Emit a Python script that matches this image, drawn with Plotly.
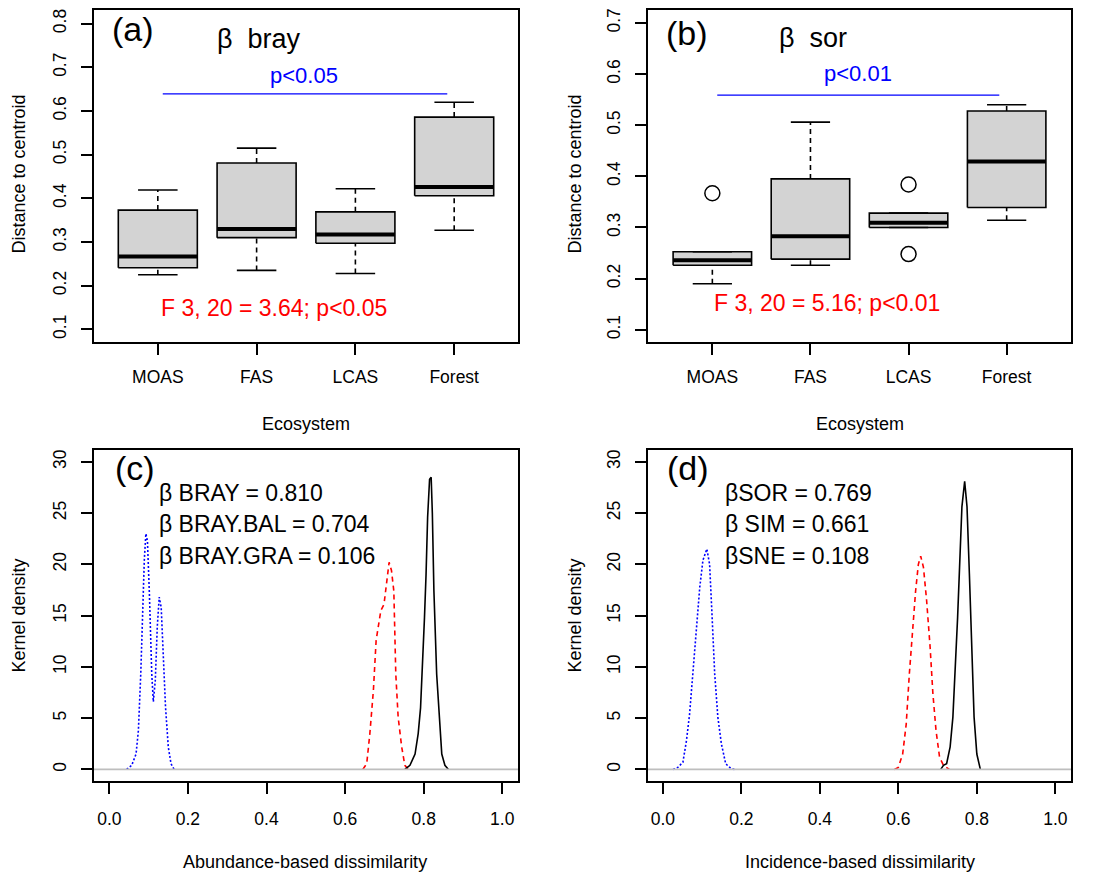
import plotly.graph_objects as go

# ---------------- data ----------------
categories = ["MOAS", "FAS", "LCAS", "Forest"]

# panel (a) beta bray: distance to centroid (box statistics)
a_low = [0.225, 0.235, 0.228, 0.327]
a_q1 = [0.241, 0.310, 0.297, 0.406]
a_med = [0.267, 0.330, 0.317, 0.426]
a_q3 = [0.373, 0.481, 0.369, 0.586]
a_high = [0.419, 0.515, 0.422, 0.620]
a_out_x = []
a_out_y = []

# panel (b) beta sor
b_low = [0.190, 0.226, 0.300, 0.314]
b_q1 = [0.226, 0.238, 0.300, 0.339]
b_med = [0.236, 0.283, 0.309, 0.429]
b_q3 = [0.2525, 0.395, 0.328, 0.528]
b_high = [0.2525, 0.506, 0.328, 0.540]
b_out_x = [1, 3, 3]
b_out_y = [0.367, 0.384, 0.248]

# significance bars
a_sig = {"x0": 1.05, "x1": 3.93, "y": 0.639, "label": "p<0.05", "lx": 2.48, "ly": 0.682}
b_sig = {"x0": 1.05, "x1": 3.925, "y": 0.559, "label": "p<0.01", "lx": 2.48, "ly": 0.602}
a_ftext = "F 3, 20 = 3.64; p<0.05"
b_ftext = "F 3, 20 = 5.16; p<0.01"

# panel (c) kernel densities (abundance-based)
c_bray_x = [0.752, 0.765, 0.778, 0.786, 0.792, 0.797, 0.802, 0.806, 0.810, 0.815, 0.819,
            0.822, 0.826, 0.833, 0.840, 0.846, 0.854, 0.863]
c_bray_y = [0.0, 0.4, 1.5, 3.5, 6.0, 10.0, 14.8, 19.0, 24.6, 28.3, 28.5,
            25.0, 17.4, 9.3, 4.4, 1.5, 0.4, 0.0]
c_bal_x = [0.645, 0.655, 0.663, 0.672, 0.679, 0.684, 0.691, 0.699, 0.706, 0.712, 0.718,
           0.724, 0.729, 0.735, 0.744, 0.752, 0.761]
c_bal_y = [0.0, 0.55, 3.5, 7.7, 12.6, 13.9, 15.5, 16.1, 18.1, 20.2, 19.4,
           17.4, 9.3, 5.1, 2.2, 0.4, 0.0]
c_gra_x = [0.044, 0.057, 0.068, 0.074, 0.080, 0.085, 0.089, 0.093, 0.097, 0.102, 0.108,
           0.112, 0.117, 0.122, 0.127, 0.132, 0.137, 0.143, 0.150, 0.157, 0.165]
c_gra_y = [0.0, 0.4, 1.5, 3.8, 9.3, 16.8, 20.4, 23.0, 22.3, 17.1, 9.3,
           6.6, 8.7, 13.9, 16.8, 15.8, 11.3, 6.1, 2.2, 0.55, 0.0]

# panel (d) kernel densities (incidence-based)
d_sor_x = [0.708, 0.715, 0.723, 0.732, 0.739, 0.745, 0.751, 0.756, 0.762, 0.769,
           0.775, 0.781, 0.787, 0.793, 0.800, 0.809]
d_sor_y = [0.0, 0.4, 0.55, 2.2, 5.1, 9.3, 14.8, 19.7, 25.6, 28.1,
           25.6, 19.1, 10.9, 5.1, 1.5, 0.0]
d_sim_x = [0.590, 0.600, 0.611, 0.620, 0.628, 0.637, 0.644, 0.651, 0.657, 0.664,
           0.672, 0.681, 0.688, 0.696, 0.705, 0.715, 0.730]
d_sim_y = [0.0, 0.2, 1.5, 4.4, 9.3, 13.9, 17.4, 20.0, 20.8, 19.7,
           16.5, 11.9, 7.4, 3.8, 1.2, 0.4, 0.0]
d_sne_x = [0.026, 0.038, 0.051, 0.060, 0.068, 0.077, 0.085, 0.094, 0.102, 0.112,
           0.119, 0.125, 0.132, 0.140, 0.149, 0.160, 0.174, 0.183]
d_sne_y = [0.0, 0.2, 0.7, 2.8, 5.4, 9.3, 13.5, 17.8, 20.4, 21.5,
           20.0, 15.2, 9.3, 5.1, 2.5, 0.55, 0.07, 0.0]

c_labels = ["β BRAY = 0.810", "β BRAY.BAL = 0.704", "β BRAY.GRA = 0.106"]
d_labels = ["βSOR = 0.769", "β SIM = 0.661", "βSNE = 0.108"]
label_y = [27.0, 23.9, 20.8]

# ---------------- figure ----------------
FONT = "Arial, 'Liberation Sans', sans-serif"
fig = go.Figure()

W, H = 1102, 876
def px_dom(a, b, total):
    return [a / total, b / total]

xdom_left = px_dom(94, 518, W)
xdom_right = px_dom(648, 1071, W)
ydom_top = [1 - 341 / H, 1 - 8 / H]
ydom_bot = [1 - 781 / H, 1 - 449 / H]

BOXHALF = 0.4
STAPLE = 0.2

def add_boxes(xa, ya, low, q1, med, q3, high, outx, outy):
    for i in range(len(categories)):
        x = i + 1
        fig.add_trace(go.Scatter(
            x=[x - BOXHALF, x + BOXHALF, x + BOXHALF, x - BOXHALF, x - BOXHALF],
            y=[q1[i], q1[i], q3[i], q3[i], q1[i]],
            mode="lines", fill="toself", fillcolor="#D3D3D3",
            line=dict(color="black", width=1.6), xaxis=xa, yaxis=ya,
            showlegend=False, hoverinfo="skip"))
        # whiskers (dashed)
        for a, b in ((q3[i], high[i]), (low[i], q1[i])):
            if b - a > 1e-9:
                fig.add_trace(go.Scatter(
                    x=[x, x], y=[a, b], mode="lines",
                    line=dict(color="black", width=1.6, dash="5px,4px"),
                    xaxis=xa, yaxis=ya, showlegend=False, hoverinfo="skip"))
        # staples
        for v in (high[i], low[i]):
            fig.add_trace(go.Scatter(
                x=[x - STAPLE, x + STAPLE], y=[v, v], mode="lines",
                line=dict(color="black", width=1.6),
                xaxis=xa, yaxis=ya, showlegend=False, hoverinfo="skip"))
        # median
        fig.add_trace(go.Scatter(
            x=[x - BOXHALF, x + BOXHALF], y=[med[i], med[i]], mode="lines",
            line=dict(color="black", width=4),
            xaxis=xa, yaxis=ya, showlegend=False, hoverinfo="skip"))
    if outx:
        fig.add_trace(go.Scatter(
            x=outx, y=outy, mode="markers",
            marker=dict(symbol="circle-open", size=15, color="black", line=dict(width=1.5)),
            xaxis=xa, yaxis=ya, showlegend=False, hoverinfo="skip"))

add_boxes("x", "y", a_low, a_q1, a_med, a_q3, a_high, a_out_x, a_out_y)
add_boxes("x2", "y2", b_low, b_q1, b_med, b_q3, b_high, b_out_x, b_out_y)

# significance lines
for sig, xa, ya in ((a_sig, "x", "y"), (b_sig, "x2", "y2")):
    fig.add_trace(go.Scatter(
        x=[sig["x0"], sig["x1"]], y=[sig["y"], sig["y"]], mode="lines",
        line=dict(color="#0000FF", width=1.3), xaxis=xa, yaxis=ya,
        showlegend=False, hoverinfo="skip"))

# density panels
def add_density(xs, ys, color, dash, xa, ya):
    fig.add_trace(go.Scatter(
        x=xs, y=ys, mode="lines", line=dict(color=color, width=1.6, dash=dash),
        xaxis=xa, yaxis=ya, showlegend=False, hoverinfo="skip"))

add_density(c_gra_x, c_gra_y, "#0000FF", "2px,2px", "x3", "y3")
add_density(c_bal_x, c_bal_y, "#FF0000", "5px,4px", "x3", "y3")
add_density(c_bray_x, c_bray_y, "black", "solid", "x3", "y3")
add_density(d_sne_x, d_sne_y, "#0000FF", "2px,2px", "x4", "y4")
add_density(d_sim_x, d_sim_y, "#FF0000", "5px,4px", "x4", "y4")
add_density(d_sor_x, d_sor_y, "black", "solid", "x4", "y4")

# gray zero lines
shapes = []
for xa, ya in (("x3", "y3"), ("x4", "y4")):
    shapes.append(dict(type="line", xref=xa + " domain", yref=ya, x0=0, x1=1, y0=0, y1=0,
                       line=dict(color="#BEBEBE", width=1.6), layer="above"))

# axes
axis_common = dict(showline=True, mirror=True, linecolor="black", linewidth=1.6,
                   ticks="outside", ticklen=11, tickwidth=1.5, tickcolor="black",
                   showgrid=False, zeroline=False,
                   tickfont=dict(family=FONT, size=17.5, color="black"))

fig.update_layout(
    width=W, height=H, margin=dict(l=0, r=0, t=0, b=0),
    plot_bgcolor="white", paper_bgcolor="white",
    font=dict(family=FONT, color="black"),
    shapes=shapes,
    xaxis=dict(domain=xdom_left, anchor="y", range=[0.354, 4.646],
               tickvals=[1, 2, 3, 4], ticktext=categories, ticklabelstandoff=7, **axis_common),
    yaxis=dict(domain=ydom_top, anchor="x", range=[0.0705, 0.8313],
               tickvals=[0.1, 0.2, 0.3, 0.4, 0.5, 0.6, 0.7, 0.8], tickformat=".1f",
               tickangle=-90, ticklabelstandoff=8, **axis_common),
    xaxis2=dict(domain=xdom_right, anchor="y2", range=[0.344, 4.656],
                tickvals=[1, 2, 3, 4], ticktext=categories, ticklabelstandoff=7, **axis_common),
    yaxis2=dict(domain=ydom_top, anchor="x2", range=[0.0755, 0.7255],
                tickvals=[0.1, 0.2, 0.3, 0.4, 0.5, 0.6, 0.7], tickformat=".1f",
                tickangle=-90, ticklabelstandoff=8, **axis_common),
    xaxis3=dict(domain=xdom_left, anchor="y3", range=[-0.039, 1.040],
                tickvals=[0, 0.2, 0.4, 0.6, 0.8, 1.0], tickformat=".1f",
                ticklabelstandoff=10, **axis_common),
    yaxis3=dict(domain=ydom_bot, anchor="x3", range=[-1.15, 31.15],
                tickvals=[0, 5, 10, 15, 20, 25, 30], tickangle=-90,
                ticklabelstandoff=8, **axis_common),
    xaxis4=dict(domain=xdom_right, anchor="y4", range=[-0.038, 1.040],
                tickvals=[0, 0.2, 0.4, 0.6, 0.8, 1.0], tickformat=".1f",
                ticklabelstandoff=10, **axis_common),
    yaxis4=dict(domain=ydom_bot, anchor="x4", range=[-1.15, 31.15],
                tickvals=[0, 5, 10, 15, 20, 25, 30], tickangle=-90,
                ticklabelstandoff=8, **axis_common),
)

ann = []
def text(x, y, s, size, color="black", xref="x", yref="y", xanchor="center", angle=0):
    ann.append(dict(x=x, y=y, xref=xref, yref=yref, text=s, showarrow=False,
                    xanchor=xanchor, yanchor="middle", textangle=angle,
                    font=dict(family=FONT, size=size, color=color)))

# panel labels and titles
text(0.75, 0.787, "(a)", 34)
text(2.02, 0.765, "β  bray", 27)
text(0.74, 0.680, "(b)", 34, xref="x2", yref="y2")
text(2.03, 0.670, "β  sor", 27, xref="x2", yref="y2")
text(0.065, 29.4, "(c)", 34, xref="x3", yref="y3")
text(0.064, 29.4, "(d)", 34, xref="x4", yref="y4")

# significance and F text
text(a_sig["lx"], a_sig["ly"], a_sig["label"], 22, "#0000FF")
text(b_sig["lx"], b_sig["ly"], b_sig["label"], 22, "#0000FF", xref="x2", yref="y2")
text(2.18, 0.149, a_ftext, 23, "#FF0000")
text(2.17, 0.152, b_ftext, 23, "#FF0000", xref="x2", yref="y2")

for s, yv in zip(c_labels, label_y):
    text(0.122, yv, s, 23, xref="x3", yref="y3", xanchor="left")
for s, yv in zip(d_labels, label_y):
    text(0.152, yv, s, 23, xref="x4", yref="y4", xanchor="left")

# axis titles (paper coords)
def ptext(xp, yp, s, angle=0):
    text(xp / W, 1 - yp / H, s, 18, xref="paper", yref="paper", angle=angle)

ptext(306, 423, "Ecosystem")
ptext(860, 423, "Ecosystem")
ptext(19, 173, "Distance to centroid", -90)
ptext(575, 173, "Distance to centroid", -90)
ptext(305, 862, "Abundance-based dissimilarity")
ptext(860, 862, "Incidence-based dissimilarity")
ptext(19, 615, "Kernel density", -90)
ptext(575, 615, "Kernel density", -90)

fig.update_layout(annotations=ann)
fig.write_html("out.html")
